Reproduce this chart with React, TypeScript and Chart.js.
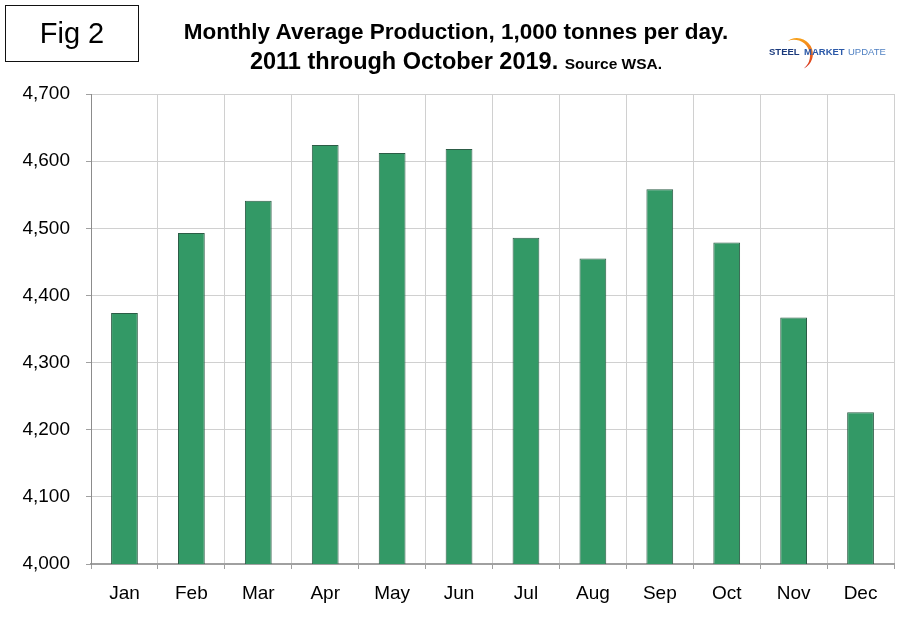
import React, { useEffect, useRef } from "react";
import { Chart, registerables } from "chart.js";

Chart.register(...registerables);

const months = ["Jan", "Feb", "Mar", "Apr", "May", "Jun", "Jul", "Aug", "Sep", "Oct", "Nov", "Dec"];
const production = [4374, 4493, 4541, 4624, 4612, 4618, 4486, 4455, 4558, 4479, 4367, 4226];
const yMin = 4000;
const yMax = 4700;
const yStep = 100;

const titleLine1 = "Monthly Average Production, 1,000 tonnes per day.";
const titleLine2 = "2011 through October 2019.";
const sourceText = "Source WSA.";
const figLabel = "Fig 2";

const FONT = "'Liberation Sans', Arial, sans-serif";

export default function App() {
  const ref = useRef<HTMLCanvasElement | null>(null);

  useEffect(() => {
    if (!ref.current) return;
    const chart = new Chart(ref.current, {
      type: "bar",
      data: {
        labels: months,
        datasets: [
          {
            data: production,
            backgroundColor: "#339966",
            borderColor: "#2c5c46",
            borderWidth: 1,
            barPercentage: 0.8,
            categoryPercentage: 0.5,
          },
        ],
      },
      options: {
        animation: false,
        responsive: false,
        devicePixelRatio: 1,
        layout: { padding: { left: 0, top: 94, right: 16, bottom: 0 } },
        plugins: { legend: { display: false }, tooltip: { enabled: false }, title: { display: false } },
        scales: {
          x: {
            offset: true,
            grid: {
              offset: true,
              color: "#d0d0d0",
              lineWidth: 1,
              tickLength: 5,
              tickColor: "#a0a0a0",
            },
            border: { color: "#a0a0a0", width: 2 },
            ticks: {
              color: "#000",
              font: { family: FONT, size: 19 },
              padding: 13,
            },
            afterFit: (s: any) => {
              s.height = 58;
            },
          },
          y: {
            min: yMin,
            max: yMax,
            grid: {
              color: "#d0d0d0",
              lineWidth: 1,
              tickLength: 5,
              tickColor: "#a0a0a0",
            },
            border: { color: "#8c8c8c", width: 1 },
            ticks: {
              stepSize: yStep,
              color: "#000",
              font: { family: FONT, size: 19 },
              padding: 16,
              callback: (v: any) => Number(v).toLocaleString("en-US"),
            },
            afterFit: (s: any) => {
              s.width = 91;
            },
          },
        },
      },
    });
    return () => chart.destroy();
  }, []);

  return (
    <div style={{ position: "absolute", left: 0, top: 0, width: 910, height: 622, background: "#fff", fontFamily: FONT }}>
      <canvas ref={ref} width={910} height={622} style={{ position: "absolute", left: 0, top: 0 }} />
      <div
        style={{
          position: "absolute",
          left: 5,
          top: 5,
          width: 134,
          height: 57,
          boxSizing: "border-box",
          border: "1px solid #111",
          display: "flex",
          alignItems: "center",
          justifyContent: "center",
          fontSize: 29,
          color: "#000",
        }}
      >
        {figLabel}
      </div>
      <div
        style={{
          position: "absolute",
          left: 106,
          top: 17,
          width: 700,
          textAlign: "center",
          fontWeight: "bold",
          color: "#000",
          lineHeight: "29.5px",
          fontSize: 22.5,
          whiteSpace: "nowrap",
        }}
      >
        <div>{titleLine1}</div>
        <div style={{ fontSize: 23.5 }}>
          {titleLine2} <span style={{ fontSize: 15.5 }}>{sourceText}</span>
        </div>
      </div>
      <svg style={{ position: "absolute", left: 760, top: 28 }} width={140} height={50}>
        <defs>
          <linearGradient id="arc" x1="0" y1="0" x2="0" y2="1">
            <stop offset="0" stopColor="#f7a21b" />
            <stop offset="0.5" stopColor="#ef6a1d" />
            <stop offset="1" stopColor="#d22a1e" />
          </linearGradient>
        </defs>
        <path d="M 27.8 12.9 A 16 16 0 1 1 43.8 40.5 A 16.1 16.1 0 0 0 27.8 12.9 Z" fill="url(#arc)" />
        <text x={9} y={27} fontFamily={FONT} fontSize={9.5} fontWeight="bold" fill="#1b3a7c">
          STEEL
        </text>
        <text x={44} y={27} fontFamily={FONT} fontSize={9.5} fontWeight="bold" fill="#2a58a8">
          MARKET
        </text>
        <text x={88} y={27} fontFamily={FONT} fontSize={9.5} fill="#4f80c2">
          UPDATE
        </text>
      </svg>
    </div>
  );
}
